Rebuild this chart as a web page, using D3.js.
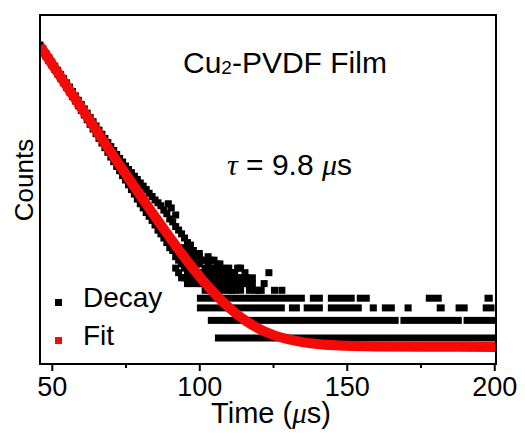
<!DOCTYPE html>
<html>
<head>
<meta charset="utf-8">
<script src="https://cdn.jsdelivr.net/npm/d3@7"></script>
<style>
  body { margin: 0; background: #fff; }
  text { font-family: "Liberation Sans", Arial, sans-serif; fill: #000; }
  .greek { font-family: "Liberation Serif", "Times New Roman", serif; font-style: italic; }
</style>
</head>
<body>
<svg width="525" height="433"></svg>
<script>
// x ticks
var xTicks = [50, 100, 150, 200];
var xMinor = [75, 125, 175];

// decay band, time in us
var bandTime = [46,47,48,49,50,51,52,53,54,55,56,57,58,59,60,61,62,63,64,65,66,67,68,69,70,
  71,72,73,74,75,76,77,78,79,80,81,82,83,84,85,86,87,88,89,90,91,92,93,94,95,96,97,98,99,100];
var bandUpper = [1700,1550,1400,1270,1150,1045,950,860,785,712,645,583,527,477,432,391,354,321,291,264,
  240,218,198,180,164,150,137,125,115,105,97,90,83,77,71,66,61,56,52,48,45,42,38,35,31,29,26,24,22,20,18,17,15,14,13];
var bandLower = [1620,1460,1320,1190,1075,970,875,790,712,642,578,520,468,420,378,340,305,274,246,221,
  198,178,160,144,129,116,104,94,84,76,68,61,55,49,44,40,36,33,30,27,24,22,20,18,16,15,13,12,11,10,9,8,8,7,7];

// single scattered points [time, counts]
var decayScatter = [
  [89.5,44],[90.5,40],[92,34],
  [92,10],[93,9],[94,8],[95,8],[96,7],[97,7],
  [95,16],[96,15],[97,14],[98,12],[98,10],[99,11],[99,9],[99,13],[100,11],[100,9],[100,14],
  [101,12],[101,9],[101,7],[102,10],[102,8],[102,12],[102,6],[103,11],[103,9],[103,7],[103,13],
  [104,10],[104,8],[104,6],[104,12],[105,12],[105,9],[105,7],[105,10],[106,10],[106,8],[106,6],[106,11],
  [107,9],[107,7],[107,11],[107,8],[108,8],[108,6],[108,10],[108,9],[109,9],[109,7],[109,8],
  [110,8],[110,6],[110,10],[110,7],[111,7],[111,9],[111,6],
  [112,8],[112,6],[112,9],[113,10],[113,7],[113,8],[114,6],[114,8],[114,10],[115,7],[115.5,9],
  [116,7],[116,8],[117,6],[117,7],[118,7],[118,8],
  [119,6],[120,6],[121,6],[122,7],[123.6,9],[125.5,6],[128,6]
];

// low count levels appear as runs of squares [counts, tStart, tEnd]
var decayRuns = [
  [2, 105.3, 200.6],
  [3, 102.9, 167.6], [3, 168.2, 189.0], [3, 189.6, 200.6],
  [4, 99.2, 129.0], [4, 130.4, 134.1], [4, 135.4, 141.9], [4, 143.6, 155.1],
  [4, 157.8, 160.2], [4, 161.9, 166.3], [4, 169.6, 172.0], [4, 180.5, 183.2],
  [4, 186.9, 191.0], [4, 196.1, 200.1],
  [5, 99.2, 135.8], [5, 137.5, 141.9], [5, 143.6, 152.7], [5, 153.4, 157.8],
  [5, 176.8, 182.2], [5, 196.7, 199.5]
];

// fit curve
var fitTime = [46,48,50,52,55,58,60,63,66,70,73,76,80,83,86,90,93,96,100,103,106,110,113,116,
  120,125,130,135,140,150,160,175,200.6];
var fitCounts = [1662,1356,1106,902,665,490,400,295,217,145,107,79.4,53.3,39.7,29.7,20.3,15.3,11.7,
  8.3,6.57,5.27,4.05,3.41,2.94,2.50,2.15,1.95,1.82,1.74,1.67,1.645,1.634,1.63];

function draw() {
  var svg = d3.select("svg");
  var pL = 40, pR = 496, pT = 15, pB = 364;

  var x = d3.scaleLinear().domain([46, 200.6]).range([pL, pR]);
  var y = d3.scaleLog().domain([1.099, 3397]).range([pB, pT]);

  svg.append("clipPath").attr("id", "clip")
    .append("rect").attr("x", pL).attr("y", pT).attr("width", pR - pL).attr("height", pB - pT);

  var plot = svg.append("g").attr("clip-path", "url(#clip)");
  var sq = 7;

  var decayPts = [];
  bandTime.forEach(function(t, i) {
    decayPts.push([t, bandUpper[i]]);
    decayPts.push([t, bandLower[i]]);
  });
  decayPts = decayPts.concat(decayScatter);

  plot.selectAll("rect.pt")
    .data(decayPts)
    .enter()
    .append("rect")
    .attr("class", "pt")
    .attr("x", function(d) { return x(d[0]) - sq / 2; })
    .attr("y", function(d) { return y(d[1]) - sq / 2; })
    .attr("width", sq)
    .attr("height", sq)
    .style("fill", "#000");

  plot.selectAll("rect.run")
    .data(decayRuns)
    .enter()
    .append("rect")
    .attr("class", "run")
    .attr("x", function(d) { return x(d[1]); })
    .attr("y", function(d) { return y(d[0]) - sq / 2; })
    .attr("width", function(d) { return x(d[2]) - x(d[1]); })
    .attr("height", sq)
    .style("fill", "#000");

  var fitLine = d3.line()
    .x(function(d, i) { return x(fitTime[i]); })
    .y(function(d) { return y(d); })
    .curve(d3.curveMonotoneX);

  plot.append("path")
    .attr("d", fitLine(fitCounts))
    .style("fill", "none")
    .style("stroke", "#f50a0a")
    .style("stroke-width", 10);

  // frame
  svg.append("rect")
    .attr("x", pL).attr("y", pT)
    .attr("width", pR - pL).attr("height", pB - pT)
    .style("fill", "none").style("stroke", "#000").style("stroke-width", 2);

  // x axis
  var xAxis = svg.append("g")
    .attr("transform", "translate(0," + pB + ")")
    .call(d3.axisBottom(x).tickValues(xTicks).tickSize(7).tickPadding(6));
  xAxis.select(".domain").remove();
  xAxis.selectAll(".tick line").style("stroke-width", 2);
  xAxis.selectAll(".tick text").style("font-size", "27px").style("font-family", "Liberation Sans, Arial, sans-serif");

  svg.append("g")
    .attr("transform", "translate(0," + pB + ")")
    .call(d3.axisBottom(x).tickValues(xMinor).tickSize(4).tickFormat(""))
    .call(function(g) { g.select(".domain").remove(); })
    .selectAll("line").style("stroke-width", 2);

  // axis titles
  var xt = svg.append("text")
    .attr("x", 271).attr("y", 423)
    .attr("text-anchor", "middle")
    .style("font-size", "29px");
  xt.append("tspan").text("Time (");
  xt.append("tspan").attr("class", "greek").text("\u03bc");
  xt.append("tspan").text("s)");

  svg.append("text")
    .attr("transform", "translate(33,180) rotate(-90)")
    .attr("text-anchor", "middle")
    .style("font-size", "26px")
    .text("Counts");

  // title
  var title = svg.append("text")
    .attr("x", 183).attr("y", 73)
    .style("font-size", "30px");
  title.append("tspan").text("Cu");
  title.append("tspan").style("font-size", "19px").attr("dy", 1).text("2");
  title.append("tspan").attr("dy", -1).text("-PVDF Film");

  // lifetime
  var tau = svg.append("text")
    .attr("x", 227).attr("y", 175)
    .style("font-size", "30px");
  tau.append("tspan").attr("class", "greek").text("\u03c4");
  tau.append("tspan").text(" = 9.8 ");
  tau.append("tspan").attr("class", "greek").text("\u03bc");
  tau.append("tspan").text("s");

  // legend
  var legendItems = [["Decay", "#000"], ["Fit", "#f50a0a"]];
  var lg = svg.append("g").selectAll("g")
    .data(legendItems)
    .enter()
    .append("g")
    .attr("transform", function(d, i) { return "translate(55," + (307 + i * 38) + ")"; });
  lg.append("rect")
    .attr("x", 0).attr("y", -8)
    .attr("width", 7).attr("height", 7)
    .style("fill", function(d) { return d[1]; });
  lg.append("text")
    .attr("x", 28).attr("y", 0)
    .style("font-size", "28px")
    .text(function(d) { return d[0]; });
}
draw();
</script>
</body>
</html>
